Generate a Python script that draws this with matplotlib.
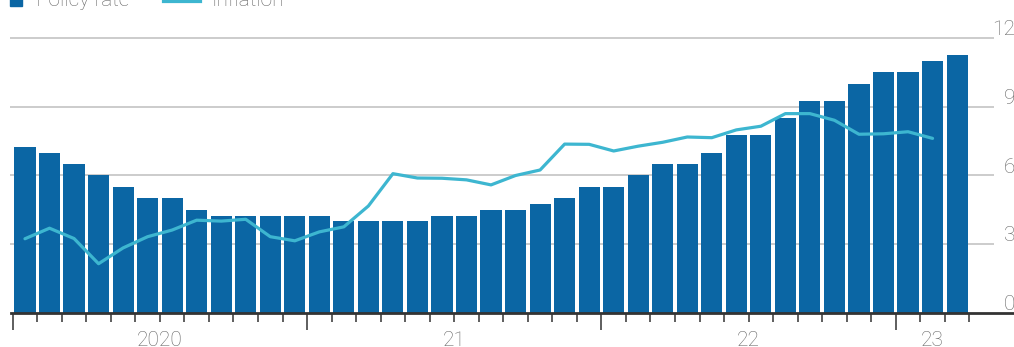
import numpy as np
import matplotlib
matplotlib.use("Agg")
import matplotlib.pyplot as plt
from matplotlib.lines import Line2D
from matplotlib.patches import Rectangle

plt.rcParams['font.family'] = ['Roboto', 'DejaVu Sans']

# Monthly data, Jan 2020 - Mar 2023 (%)
policy_rate = [7.25, 7.0, 6.5, 6.0, 5.5, 5.0, 5.0, 4.5, 4.25, 4.25, 4.25, 4.25,
               4.25, 4.0, 4.0, 4.0, 4.0, 4.25, 4.25, 4.5, 4.5, 4.75, 5.0, 5.5,
               5.5, 6.0, 6.5, 6.5, 7.0, 7.75, 7.75, 8.5, 9.25, 9.25, 10.0, 10.5,
               10.5, 11.0, 11.25]
inflation = [3.24, 3.70, 3.25, 2.15, 2.84, 3.33, 3.62, 4.05, 4.01, 4.09, 3.33, 3.15,
             3.54, 3.76, 4.67, 6.08, 5.89, 5.88, 5.81, 5.59, 6.00, 6.24, 7.37, 7.36,
             7.07, 7.28, 7.45, 7.68, 7.65, 7.99, 8.15, 8.70, 8.70, 8.41, 7.80, 7.82,
             7.91, 7.62]
year_labels = ["2020", "21", "22", "23"]
y_ticks = [0, 3, 6, 9, 12]

bar_color = "#0b66a4"
line_color = "#3db6d0"
text_color = "#666666"
fs = 15

fig = plt.figure(figsize=(10.14, 3.47), dpi=100)
ax = fig.add_axes([0, 0, 1, 1])
ax.set_xlim(-0.518, 40.82)
ax.set_ylim(-1.4836, 13.658)

# gridlines with labels on the right
for v in y_ticks[1:]:
    ax.hlines(v, -0.11, 40.0, color="#c8c8c8", lw=1.3, zorder=0)
for v in y_ticks:
    ax.text(40.86, v + 0.13, str(v), ha="right", va="baseline",
            fontsize=fs, fontweight="light", color=text_color)

x = np.arange(len(policy_rate)) + 0.5
ax.bar(x, policy_rate, width=0.86, color=bar_color, zorder=2)
ax.plot(x[:len(inflation)], inflation, color=line_color, lw=2.3,
        solid_joinstyle="round", solid_capstyle="round", zorder=3)

# month ticks along the zero line
for s in ["top", "right", "left"]:
    ax.spines[s].set_visible(False)
ax.spines["bottom"].set_position(("data", 0))
ax.spines["bottom"].set_bounds(-0.05, 40.82)
ax.spines["bottom"].set_color("#333333")
ax.spines["bottom"].set_linewidth(2)
ax.spines["bottom"].set_zorder(4)
ax.set_yticks([])
ax.set_xticks([0, 12, 24, 36])
ax.set_xticks(np.arange(0, 40), minor=True)
ax.set_xticklabels([])
ax.tick_params(axis="x", which="major", direction="out", length=12.5,
               width=1.1, color="#333333")
ax.tick_params(axis="x", which="minor", direction="out", length=6.5,
               width=1.1, color="#333333")

year_centers = [6, 18, 30, 37.5]
for xc, lab in zip(year_centers, year_labels):
    ax.text(xc, -0.78, lab, ha="center", va="top", fontsize=fs,
            fontweight="light", color=text_color)

# legend (top edge)
fig.patches.append(Rectangle((10 / 1014, 1 - 6 / 347), 12 / 1014, 14 / 347,
                             transform=fig.transFigure, color=bar_color))
fig.text(36 / 1014, 1 - 6 / 347, "Policy rate", ha="left", va="baseline",
         fontsize=fs, fontweight="light", color=text_color)
fig.lines.append(Line2D([163 / 1014, 200 / 1014], [1 - 0.5 / 347, 1 - 0.5 / 347],
                        transform=fig.transFigure, color=line_color, lw=2.3))
fig.text(212 / 1014, 1 - 6 / 347, "Inflation", ha="left", va="baseline",
         fontsize=fs, fontweight="light", color=text_color)

fig.savefig("out.png", dpi=100, facecolor="white")
